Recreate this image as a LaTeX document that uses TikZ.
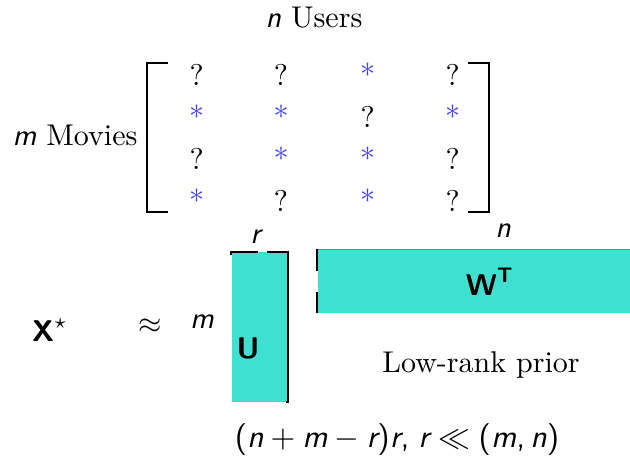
\documentclass[tikz,border=0pt]{standalone}
\usepackage{xcolor}
\usepackage{amstext}
\definecolor{turq}{HTML}{40E0D0}
\definecolor{starblue}{rgb}{0.25,0.25,1}
\newcommand\sv[1]{\textsf{\itshape #1}}
\newcommand\sbf[1]{\textsf{\bfseries #1}}
\begin{document}
\begin{tikzpicture}[x=0.33333pt,y=-0.33333pt,
  ent/.style={anchor=base,inner sep=0pt},
  st/.style={ent,text=starblue},
  brk/.style={line width=0.9pt},
  fbrk/.style={line width=0.6pt},
  lbl/.style={inner sep=0pt}]
\useasboundingbox (0,0) rectangle (630,470);
% titles
\node[ent] (users) at (314,27) {\sv{n} Users};
\node[ent,anchor=base west] (movies) at (12,145) {\sv{m} Movies};
% matrix brackets
\draw[brk] (168,63) -- (147,63) -- (147,212) -- (168,212);
\draw[brk] (468,63) -- (489,63) -- (489,212) -- (468,212);
% matrix entries
\node[ent] (a11) at (196.7,85) {?};
\node[ent] (a12) at (281,85) {?};
\node[st]  (a13) at (367.7,85) {*};
\node[ent] (a14) at (452.7,85) {?};
\node[st]  (a21) at (196.7,127) {*};
\node[st]  (a22) at (281,127) {*};
\node[ent] (a23) at (367.7,127) {?};
\node[st]  (a24) at (452.7,127) {*};
\node[ent] (a31) at (196.7,169) {?};
\node[st]  (a32) at (281,169) {*};
\node[st]  (a33) at (367.7,169) {*};
\node[ent] (a34) at (452.7,169) {?};
\node[st]  (a41) at (196.7,211) {*};
\node[ent] (a42) at (281,211) {?};
\node[st]  (a43) at (367.7,211) {*};
\node[ent] (a44) at (452.7,211) {?};
% U factor
\fill[turq] (231.7,251.7) rectangle (286.7,401.7);
\draw[fbrk] (231.2,255) -- (231.2,251.7) -- (258,251.7);
\draw[fbrk] (266.7,251.7) -- (288.3,251.7) -- (288.3,401.7) -- (285.5,401.7);
\node[lbl] (r) at (256.7,237) {\sv{r}};
\node[lbl] (U) at (248,348) {\sbf{U}};
\node[ent] (m) at (202,328) {\sv{m}};
% W factor
\fill[turq] (317.7,249.3) rectangle (630,312.7);
\draw[gray,line width=0.35pt] (317.7,249.3) -- (630,249.3);
\draw[fbrk] (316.7,249.3) -- (316.7,270.7);
\draw[fbrk] (316.7,291.7) -- (316.7,312.7);
\node[lbl] (n) at (503,231) {\sv{n}};
\node[lbl] (W) at (490,282) {$\sbf{W}^{\sbf{T}}$};
\node[ent] (prior) at (481,372) {Low-rank prior};
% left side
\node[lbl] (X) at (50,330) {$\sbf{X}^{\star}$};
\node[lbl] (approx) at (150,326) {$\approx$};
% bottom formula
\node[lbl,scale=1.06] (cost) at (397,440) {$\textsf{(}\sv{n}+\sv{m}-\sv{r}\textsf{)}\sv{r}\textsf{,}\;\sv{r}\ll\textsf{(}\sv{m}\textsf{,}\,\sv{n}\textsf{)}$};
\end{tikzpicture}
\end{document}
